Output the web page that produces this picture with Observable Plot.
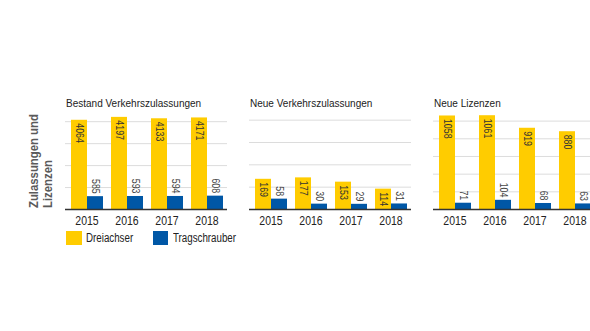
<!DOCTYPE html>
<html>
<head>
<meta charset="utf-8">
<script src="https://cdn.jsdelivr.net/npm/d3@7"></script>
<script src="https://cdn.jsdelivr.net/npm/@observablehq/plot@0.6"></script>
<style>
  html, body { margin: 0; padding: 0; background: #fff; }
  body { width: 590px; height: 331px; overflow: hidden; position: relative;
         font-family: "Liberation Sans", Arial, sans-serif; }
  .abs { position: absolute; white-space: nowrap; }
  .ptitle { font-size: 11.5px; color: #222; line-height: 13px;
            transform-origin: 0 0; transform: scaleX(0.87); }
  .ytitle { font-size: 13.5px; font-weight: bold; color: #5a5a5a; line-height: 13.5px;
            transform-origin: 0 0; transform: rotate(-90deg) scaleX(0.84); }
  .leg { font-size: 12.5px; color: #222; line-height: 14px;
         transform-origin: 0 0; transform: scaleX(0.78); }
  .sw { width: 15.5px; height: 14px; }
</style>
</head>
<body>
<div id="root"></div>
<script>
const years = ["2015", "2016", "2017", "2018"];
const series = ["Dreiachser", "Tragschrauber"];
const colors = ["#FFCC00", "#0057A6"];

const panelTitles = ["Bestand Verkehrszulassungen", "Neue Verkehrszulassungen", "Neue Lizenzen"];
const bestandDreiachser = [4064, 4197, 4133, 4171];
const bestandTragschrauber = [585, 593, 594, 608];
const neuDreiachser = [169, 177, 153, 114];
const neuTragschrauber = [58, 30, 29, 31];
const lizenzenDreiachser = [1058, 1061, 919, 880];
const lizenzenTragschrauber = [71, 104, 68, 63];

const gridTicks = [[1000, 2000, 3000, 4000], [125, 250, 375, 500], [200, 400, 600, 800, 1000]];
const yMax = [4510, 554, 1120];
const yTitle = ["Zulassungen und", "Lizenzen"];

const panelValues = [
  [bestandDreiachser, bestandTragschrauber],
  [neuDreiachser, neuTragschrauber],
  [lizenzenDreiachser, lizenzenTragschrauber]
];
const panelLeft = [65, 249, 433];

const root = document.getElementById("root");
const FONT = '"Liberation Sans", Arial, sans-serif';

function addDiv(cls, left, top, html, extra) {
  const d = document.createElement("div");
  d.className = "abs " + cls;
  d.style.left = left + "px";
  d.style.top = top + "px";
  if (html != null) d.textContent = html;
  if (extra) Object.assign(d.style, extra);
  root.appendChild(d);
  return d;
}

// condense svg text horizontally along its own direction
function condense(svg, sel, k) {
  svg.querySelectorAll(sel).forEach(t => {
    t.setAttribute("transform", (t.getAttribute("transform") || "") + ` scale(${k},1)`);
  });
}

function place(svg, left) {
  svg.style.position = "absolute";
  svg.style.left = left + "px";
  svg.style.top = "110px";
  root.appendChild(svg);
}

const common = {
  width: 162, height: 123,
  marginLeft: 0, marginRight: 0, marginTop: 0, marginBottom: 24,
  style: {fontFamily: FONT, background: "transparent", overflow: "visible"}
};

panelValues.forEach((vals, p) => {
  const data = [];
  years.forEach((yr, i) => {
    series.forEach((s, j) => data.push({year: yr, series: s, value: vals[j][i]}));
  });
  const yScale = {domain: [0, yMax[p]], axis: null};

  // gridlines (behind bars, continuous across groups)
  place(Plot.plot({...common, y: yScale, x: {axis: null},
    marks: [Plot.ruleY(gridTicks[p], {stroke: "#dcdcdc", strokeWidth: 1})]}), panelLeft[p]);

  // grouped bars
  const bars = Plot.plot({
    ...common,
    fx: {domain: years, paddingInner: 0.187, paddingOuter: 0.089, label: null, axis: null},
    x: {domain: series, padding: 0, axis: null},
    y: yScale,
    color: {domain: series, range: colors},
    marks: [
      Plot.axisFx({anchor: "bottom", tickSize: 0, tickPadding: 7, fontSize: 12.5,
                   fill: "#222", label: null}),
      Plot.barY(data, {fx: "year", x: "series", y: "value", fill: "series"}),
      Plot.text(data.filter(d => d.series === series[0]), {
        fx: "year", x: "series", y: "value", text: d => String(d.value),
        rotate: 90, textAnchor: "start", lineAnchor: "middle", dy: 3,
        fontSize: 10, fill: "#333", className: "vlab"
      }),
      Plot.text(data.filter(d => d.series === series[1]), {
        fx: "year", x: "series", y: "value", text: d => String(d.value),
        rotate: 90, textAnchor: "end", lineAnchor: "middle", dy: -3,
        fontSize: 10, fill: "#444", className: "vlab"
      })
    ]
  });
  condense(bars, ".vlab text", 0.88);
  condense(bars, "g[aria-label='fx-axis tick label'] text", 0.84);
  place(bars, panelLeft[p]);

  // baseline on top
  place(Plot.plot({...common, y: yScale, x: {axis: null},
    marks: [Plot.ruleY([0], {stroke: "#333", strokeWidth: 1.5})]}), panelLeft[p]);

  addDiv("ptitle", panelLeft[p] + 1, 97, panelTitles[p]);
});

// y title
const yt = addDiv("ytitle", 27, 208, null);
yt.innerHTML = yTitle.join("<br>");

// legend
addDiv("sw", 66, 230.5, null, {background: colors[0]});
addDiv("leg", 86, 230.5, series[0]);
addDiv("sw", 152.5, 230.5, null, {background: colors[1]});
addDiv("leg", 173, 230.5, series[1]);
</script>
</body>
</html>
